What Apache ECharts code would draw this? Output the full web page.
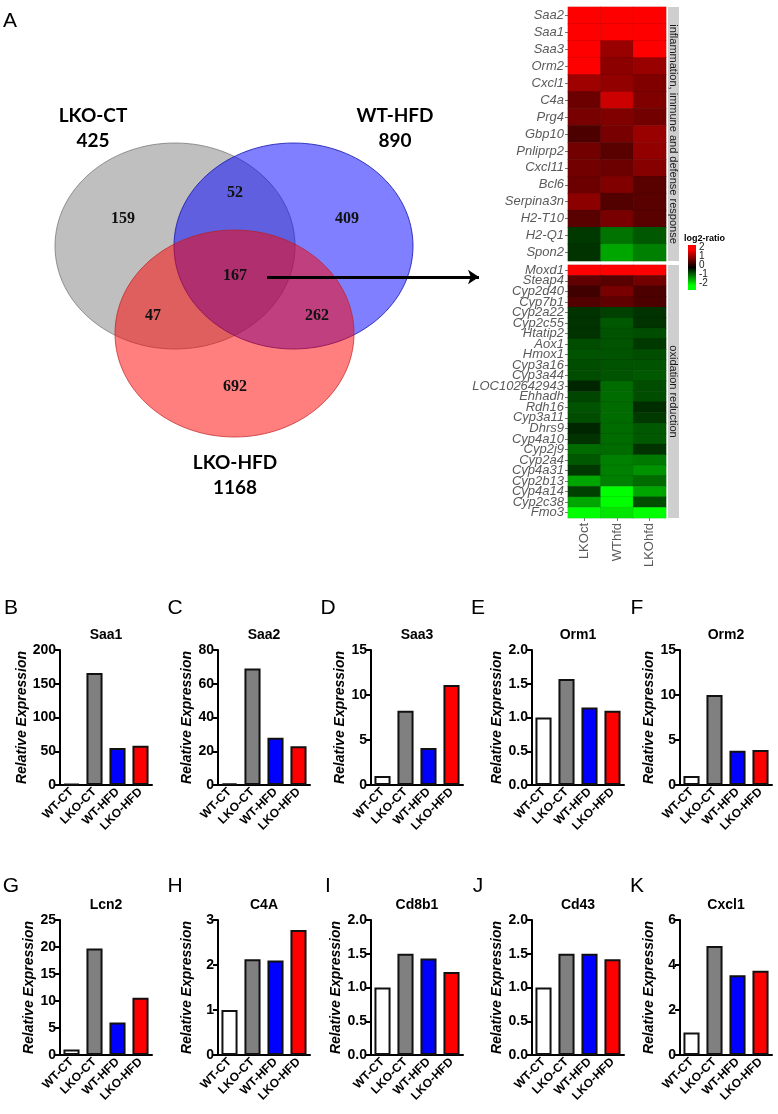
<!DOCTYPE html>
<html><head><meta charset="utf-8">
<script src="https://cdn.jsdelivr.net/npm/echarts@6/dist/echarts.min.js"></script>
<style>html,body{margin:0;padding:0;background:#fff}#c{width:778px;height:1114px}</style>
</head><body><div id="c"></div>
<script>
// ---------------- DATA ----------------
// Venn diagram
const vennSetNames = ['LKO-CT', 'WT-HFD', 'LKO-HFD'];
const vennSetTotals = [425, 890, 1168];
// regions: LKO-CT only, LKO-CT&WT-HFD, WT-HFD only, all three, LKO-CT&LKO-HFD, WT-HFD&LKO-HFD, LKO-HFD only
const vennRegionCounts = [159, 52, 409, 167, 47, 262, 692];

// Heatmap (log2-ratio)
const heatCols = ['LKOct', 'WThfd', 'LKOhfd'];
const inflamGenes = ['Saa2','Saa1','Saa3','Orm2','Cxcl1','C4a','Prg4','Gbp10','Pnliprp2','Cxcl11','Bcl6','Serpina3n','H2-T10','H2-Q1','Spon2'];
const inflamLKOct  = [3, 3, 3, 3, 1.25, 0.85, 0.95, 0.6, 0.9, 0.9, 0.85, 1.1, 0.7, -0.45, -0.4];
const inflamWThfd  = [3, 3, 1.2, 1.1, 1.15, 1.6, 1.0, 0.95, 0.7, 0.85, 1.0, 0.65, 0.95, -0.9, -1.3];
const inflamLKOhfd = [3, 3, 3, 1.2, 1.0, 1.0, 0.9, 1.2, 1.15, 1.05, 0.7, 0.7, 0.7, -0.7, -1.0];
const oxGenes = ['Moxd1','Steap4','Cyp2d40','Cyp7b1','Cyp2a22','Cyp2c55','Htatip2','Aox1','Hmox1','Cyp3a16','Cyp3a44','LOC102642943','Ehhadh','Rdh16','Cyp3a11','Dhrs9','Cyp4a10','Cyp2j9','Cyp2a4','Cyp4a31','Cyp2b13','Cyp4a14','Cyp2c38','Fmo3'];
const oxLKOct  = [3, 0.75, 0.5, 0.65, -0.4, -0.4, -0.4, -0.6, -0.65, -0.6, -0.6, -0.3, -0.55, -0.65, -0.6, -0.3, -0.4, -0.85, -0.7, -0.45, -1.3, -0.5, -1.3, -2.2];
const oxWThfd  = [3, 0.7, 0.95, 0.75, -0.5, -0.7, -0.65, -0.65, -0.65, -0.65, -0.65, -0.85, -0.85, -0.85, -0.85, -0.85, -0.85, -0.85, -1.0, -1.0, -1.0, -2.5, -2.5, -1.8];
const oxLKOhfd = [3, 0.9, 0.6, 0.6, -0.4, -0.4, -0.6, -0.45, -0.6, -0.65, -0.7, -0.6, -0.6, -0.35, -0.45, -0.7, -0.7, -0.4, -0.95, -1.15, -0.85, -1.3, -0.6, -2.1];
const legendTicks = ['2', '1', '0', '-1', '-2'];

// Bar charts (Relative Expression)
const groups = ['WT-CT', 'LKO-CT', 'WT-HFD', 'LKO-HFD'];
const barGenes = ['Saa1', 'Saa2', 'Saa3', 'Orm1', 'Orm2', 'Lcn2', 'C4A', 'Cd8b1', 'Cd43', 'Cxcl1'];
const saa1  = [1.5, 166, 55, 58];
const saa2  = [1, 69, 28, 23];
const saa3  = [1, 8.25, 4.1, 11.1];
const orm1  = [1.0, 1.57, 1.15, 1.1];
const orm2  = [1, 10, 3.8, 3.9];
const lcn2  = [1, 19.7, 6, 10.6];
const c4a   = [1, 2.13, 2.1, 2.78];
const cd8b1 = [1, 1.5, 1.43, 1.23];
const cd43  = [1, 1.5, 1.5, 1.42];
const cxcl1 = [1, 4.85, 3.55, 3.75];
const barValues = [saa1, saa2, saa3, orm1, orm2, lcn2, c4a, cd8b1, cd43, cxcl1];
const yMaxes = [200, 80, 15, 2, 15, 25, 3, 2, 2, 6];
const ySteps = [50, 20, 5, 0.5, 5, 5, 1, 0.5, 0.5, 2];
const yDecimals = [0, 0, 0, 1, 0, 0, 0, 1, 1, 0];
const panelLetters = ['B','C','D','E','F','G','H','I','J','K'];

// ---------------- LAYOUT / STYLE ----------------
const vennEllipses = [[175, 246, 120, 103], [293.5, 246, 119.5, 103], [234.5, 333.5, 119.5, 103.5]];
const vennFills = ['rgba(128,128,128,0.5)', 'rgba(0,0,255,0.5)', 'rgba(255,0,0,0.5)'];
const vennStrokes = ['rgba(110,110,110,0.7)', 'rgba(20,20,170,0.8)', 'rgba(190,30,30,0.7)'];
const vennRegionPos = [[123,219],[235,193],[347,219],[235,276],[153,316],[317,316],[235,387]];
const vennSetPos = [[93,128],[395,128],[235,475]];
const arrowPts = [[267,277],[479,277]];

const barColors = ['#ffffff', '#808080', '#0000ff', '#ff0000'];
const colAxisX = [60, 218, 371, 532, 680];
const rowTop = [650, 920];
const letterX = [11, 175, 328, 478, 637];
const letterY = [608, 886];
const plotW = 92, plotH = 135;

const SANS = '"Liberation Sans", Arial, sans-serif';

const option = {
  animation: false,
  backgroundColor: '#fff',
  grid: [], xAxis: [], yAxis: [], series: [], graphic: []
};

// ---- Venn grid (pixel-mapped) ----
option.grid.push({left: 0, top: 0, width: 500, height: 500});
option.xAxis.push({type: 'value', gridIndex: 0, min: 0, max: 500, show: false});
option.yAxis.push({type: 'value', gridIndex: 0, min: 0, max: 500, inverse: true, show: false});

option.series.push({
  type: 'custom', xAxisIndex: 0, yAxisIndex: 0, silent: true,
  data: vennEllipses.map((e, i) => [e[0], e[1], e[2], e[3], i]),
  renderItem: function (params, api) {
    const c = api.coord([api.value(0), api.value(1)]);
    const px = api.coord([api.value(0) + api.value(2), api.value(1) + api.value(3)]);
    const i = api.value(4);
    return {type: 'ellipse', shape: {cx: c[0], cy: c[1], rx: Math.abs(px[0] - c[0]), ry: Math.abs(px[1] - c[1])},
      style: {fill: vennFills[i], stroke: vennStrokes[i], lineWidth: 1}};
  }
});
option.series.push({
  type: 'custom', xAxisIndex: 0, yAxisIndex: 0, silent: true, z: 5,
  data: vennRegionCounts.map((v, i) => [vennRegionPos[i][0], vennRegionPos[i][1], v]),
  renderItem: function (params, api) {
    const c = api.coord([api.value(0), api.value(1)]);
    return {type: 'text', x: c[0], y: c[1], style: {text: String(api.value(2)), font: 'bold 16px "Liberation Serif", "Times New Roman", serif', fill: '#111', align: 'center', verticalAlign: 'middle'}};
  }
});
option.series.push({
  type: 'custom', xAxisIndex: 0, yAxisIndex: 0, silent: true, z: 5,
  data: vennSetTotals.map((v, i) => [vennSetPos[i][0], vennSetPos[i][1], v, i]),
  renderItem: function (params, api) {
    const c = api.coord([api.value(0), api.value(1)]);
    const i = api.value(3);
    return {type: 'text', x: c[0], y: c[1], style: {text: vennSetNames[i] + '\n' + api.value(2), font: 'bold 19px Lato, "Open Sans", sans-serif', lineHeight: 25, fill: '#000', align: 'center', verticalAlign: 'middle'}};
  }
});
option.series.push({
  type: 'lines', coordinateSystem: 'cartesian2d', xAxisIndex: 0, yAxisIndex: 0, silent: true, z: 6,
  symbol: ['none', 'arrow'], symbolSize: 11,
  lineStyle: {color: '#000', width: 3, opacity: 1},
  data: [{coords: arrowPts}]
});

// ---- Heatmap grids ----
const hmLeft = 568, hmW = 98;
const hmPanels = [
  {genes: inflamGenes, cols: [inflamLKOct, inflamWThfd, inflamLKOhfd], top: 7, h: 254, strip: 'inflammation, immune and defense response'},
  {genes: oxGenes, cols: [oxLKOct, oxWThfd, oxLKOhfd], top: 265, h: 253, strip: 'oxidation reduction'}
];
const hmSeriesIdx = [];
hmPanels.forEach((p, k) => {
  const gi = option.grid.length;
  option.grid.push({left: hmLeft, top: p.top, width: hmW, height: p.h});
  option.xAxis.push({type: 'category', gridIndex: gi, data: heatCols, show: k === 1,
    axisLine: {show: false}, axisTick: {show: true, length: 3, alignWithLabel: true, lineStyle: {color: '#777'}},
    axisLabel: {rotate: 90, fontSize: 13, color: '#5a5a5a', fontFamily: SANS, margin: 5, interval: 0}, splitLine: {show: false}});
  option.yAxis.push({type: 'category', gridIndex: gi, data: p.genes, inverse: true,
    axisLine: {show: false}, axisTick: {show: true, length: 3, alignWithLabel: true, lineStyle: {color: '#777'}},
    axisLabel: {fontSize: 13, fontStyle: 'italic', color: '#5a5a5a', fontFamily: SANS, margin: 4, interval: 0}, splitLine: {show: false}});
  const data = [];
  p.genes.forEach((g, r) => { p.cols.forEach((col, c) => { data.push([c, r, col[r]]); }); });
  hmSeriesIdx.push(option.series.length);
  option.series.push({type: 'heatmap', xAxisIndex: gi, yAxisIndex: gi, data: data, silent: true,
    itemStyle: {borderColor: 'rgba(0,0,0,0.18)', borderWidth: 0.5}});
  // strip
  option.graphic.push({type: 'rect', shape: {x: 668, y: p.top, width: 11, height: p.h}, style: {fill: '#cfcfcf'}, silent: true});
  option.graphic.push({type: 'text', x: 673.5, y: p.top + p.h / 2, rotation: -Math.PI / 2,
    style: {text: p.strip, font: '11px ' + SANS, fill: '#1a1a1a', align: 'center', verticalAlign: 'middle'}, silent: true});
});
option.visualMap = {type: 'continuous', show: false, min: -2, max: 2, dimension: 2, seriesIndex: hmSeriesIdx,
  inRange: {color: ['#00ff00', '#000000', '#ff0000']}};

// legend
option.graphic.push({type: 'text', x: 684, y: 239, style: {text: 'log2-ratio', font: 'bold 9px ' + SANS, fill: '#000', align: 'left', verticalAlign: 'middle'}});
option.graphic.push({type: 'rect', shape: {x: 688, y: 245, width: 8, height: 45},
  style: {fill: new echarts.graphic.LinearGradient(0, 0, 0, 1, [
    {offset: 0, color: '#ff0000'}, {offset: 0.1, color: '#ff0000'}, {offset: 0.5, color: '#000000'},
    {offset: 0.9, color: '#00ff00'}, {offset: 1, color: '#00ff00'}])}});
legendTicks.forEach((t, i) => {
  option.graphic.push({type: 'text', x: 699, y: 247 + i * 9, style: {text: t, font: '10px ' + SANS, fill: '#222', align: 'left', verticalAlign: 'middle'}});
});

// panel A letter
option.graphic.push({type: 'text', x: 10, y: 21, style: {text: 'A', font: '21px ' + SANS, fill: '#000', align: 'center', verticalAlign: 'middle'}});

// ---- Bar charts ----
barGenes.forEach((gene, k) => {
  const row = k < 5 ? 0 : 1, col = k % 5;
  const gi = option.grid.length;
  const left = colAxisX[col], top = rowTop[row];
  option.grid.push({left: left, top: top, width: plotW, height: plotH});
  option.xAxis.push({type: 'category', gridIndex: gi, data: groups,
    axisLine: {lineStyle: {color: '#000', width: 2}}, axisTick: {show: false},
    axisLabel: {rotate: 45, interval: 0, fontSize: 12, fontWeight: 'bold', color: '#000', fontFamily: SANS, margin: 5},
    splitLine: {show: false}});
  const dec = yDecimals[k];
  option.yAxis.push({type: 'value', gridIndex: gi, min: 0, max: yMaxes[k], interval: ySteps[k],
    axisLine: {show: true, lineStyle: {color: '#000', width: 2}},
    axisTick: {show: true, length: 5, lineStyle: {color: '#000', width: 2}},
    splitLine: {show: false},
    axisLabel: {fontSize: 14, fontWeight: 'bold', color: '#000', fontFamily: SANS, margin: 4,
      formatter: v => v.toFixed(dec)},
    name: 'Relative Expression', nameLocation: 'middle', nameGap: 24, nameRotate: 90,
    nameTextStyle: {fontSize: 14, fontStyle: 'italic', fontWeight: 'bold', color: '#000', fontFamily: SANS}});
  option.series.push({type: 'bar', xAxisIndex: gi, yAxisIndex: gi, barWidth: '70%', silent: true,
    itemStyle: {borderColor: '#111', borderWidth: 2},
    data: barValues[k].map((v, i) => ({value: v, itemStyle: {color: barColors[i]}}))});
  option.graphic.push({type: 'text', x: left + plotW / 2, y: top - 15,
    style: {text: gene, font: 'bold 14px ' + SANS, fill: '#000', align: 'center', verticalAlign: 'middle'}});
  option.graphic.push({type: 'text', x: letterX[col], y: letterY[row],
    style: {text: panelLetters[k], font: '21px ' + SANS, fill: '#000', align: 'center', verticalAlign: 'middle'}});
});

const chart = echarts.init(document.getElementById('c'), null, {renderer: 'canvas'});
chart.setOption(option);
</script>
</body></html>
